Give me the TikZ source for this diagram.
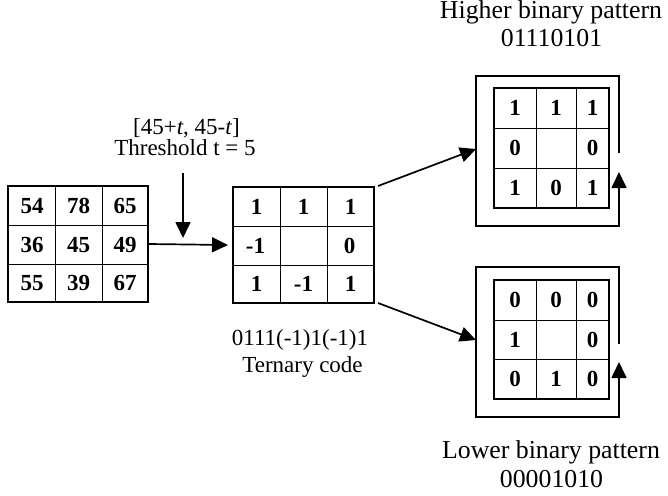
\documentclass[tikz,border=0pt]{standalone}
\usepackage{fontspec}
\setmainfont{Liberation Serif}
\usetikzlibrary{arrows.meta,calc}
\begin{document}
\begin{tikzpicture}[x=1pt,y=-1pt,
  txt/.style={font=\fontsize{23}{26}\selectfont, inner sep=0pt, anchor=base},
  ttl/.style={font=\fontsize{25.8}{29}\selectfont, inner sep=0pt, anchor=base},
  cell/.style={font=\fontsize{23}{26}\selectfont\bfseries, inner sep=0pt, text height=15.5pt, text depth=0pt},
  grid/.style={draw, line width=1.6pt, inner sep=0pt},
  gl/.style={line width=1pt},
  arr/.style={line width=1.7pt, -{Triangle[length=16pt,width=15pt]}},
  frame/.style={line width=1.7pt, -{Triangle[length=16pt,width=15pt]}}]
\useasboundingbox (0,0) rectangle (668,495);

% ---- left grid (input)
\node[grid, minimum width=140, minimum height=116] (L) at (78,244) {};
\draw[gl] (55,186) -- (55,302) (102,186) -- (102,302) (8,225) -- (148,225) (8,264) -- (148,264);
\node[cell] (L11) at (32,205.5) {54};
\node[cell] (L12) at (78.5,205.5) {78};
\node[cell] (L13) at (125,205.5) {65};
\node[cell] (L21) at (32,244.5) {36};
\node[cell] (L22) at (78.5,244.5) {45};
\node[cell] (L23) at (125,244.5) {49};
\node[cell] (L31) at (32,283) {55};
\node[cell] (L32) at (78.5,283) {39};
\node[cell] (L33) at (125,283) {67};

% ---- middle grid (ternary)
\node[grid, minimum width=141, minimum height=116] (M) at (303.5,245) {};
\draw[gl] (280,187) -- (280,303) (327,187) -- (327,303) (233,226) -- (374,226) (233,265) -- (374,265);
\node[cell] (M11) at (256.5,206.5) {1};
\node[cell] (M12) at (303.5,206.5) {1};
\node[cell] (M13) at (350.5,206.5) {1};
\node[cell] (M21) at (255.5,245.5) {-1};
\node[cell] (M23) at (349.5,245.5) {0};
\node[cell] (M31) at (256.5,284) {1};
\node[cell] (M32) at (303.5,284) {-1};
\node[cell] (M33) at (350.5,284) {1};

% ---- upper right grid
\node[grid, minimum width=115, minimum height=120] (H) at (551.5,148) {};
\draw[gl] (536,88) -- (536,208) (576,88) -- (576,208) (494,128) -- (609,128) (494,168) -- (609,168);
\node[cell] (H11) at (515,108) {1};
\node[cell] (H12) at (556,108) {1};
\node[cell] (H13) at (592.5,108) {1};
\node[cell] (H21) at (515,148) {0};
\node[cell] (H23) at (592.5,148) {0};
\node[cell] (H31) at (515,188) {1};
\node[cell] (H32) at (556,188) {0};
\node[cell] (H33) at (592.5,188) {1};

% ---- lower right grid
\node[grid, minimum width=115, minimum height=119] (B) at (551.5,339.5) {};
\draw[gl] (536,280) -- (536,399) (576,280) -- (576,399) (494,320) -- (609,320) (494,359) -- (609,359);
\node[cell] (B11) at (515,300) {0};
\node[cell] (B12) at (556,300) {0};
\node[cell] (B13) at (592.5,300) {0};
\node[cell] (B21) at (515,339.5) {1};
\node[cell] (B23) at (592.5,339.5) {0};
\node[cell] (B31) at (515,379) {0};
\node[cell] (B32) at (556,379) {1};
\node[cell] (B33) at (592.5,379) {0};

% ---- texts
\node[txt] (thr1) at (186.5,134) {[45+\textit{t}, 45-\textit{t}]};
\node[txt] (thr2) at (185,155) {Threshold t = 5};
\node[txt] (ter1) at (300,345) {0111(-1)1(-1)1};
\node[txt] (ter2) at (302.5,372) {Ternary code};
\node[ttl] (hi1) at (551,19) {Higher binary pattern};
\node[ttl] (hi2) at (551.5,47) {01110101};
\node[ttl] (lo1) at (551,458) {Lower binary pattern};
\node[ttl] (lo2) at (551.5,487) {00001010};

% ---- coordinates for connectors
\coordinate (vtop) at (183,173);
\coordinate (vend) at (183,238);
\coordinate (mIn) at (228,245);
\coordinate (mUp) at (378,186);
\coordinate (mDn) at (378,303);
\coordinate (hIn) at (476,149);
\coordinate (bIn) at (476,340);

% ---- connectors
\draw[arr] (L.east) -- (mIn);
\draw[arr] (vtop) -- (vend);
\draw[arr] (mUp) -- (hIn);
\draw[arr] (mDn) -- (bIn);

% ---- circular frames
\coordinate (hf1) at (619,153);
\coordinate (hf2) at (619,76);
\coordinate (hf3) at (476,76);
\coordinate (hf4) at (476,226);
\coordinate (hf5) at (619,226);
\coordinate (hf6) at (619,172);
\draw[frame] (hf1) -- (hf2) -- (hf3) -- (hf4) -- (hf5) -- (hf6);

\coordinate (bf1) at (619,344);
\coordinate (bf2) at (619,267);
\coordinate (bf3) at (476,267);
\coordinate (bf4) at (476,417);
\coordinate (bf5) at (619,417);
\coordinate (bf6) at (619,362);
\draw[frame] (bf1) -- (bf2) -- (bf3) -- (bf4) -- (bf5) -- (bf6);
\end{tikzpicture}
\end{document}
